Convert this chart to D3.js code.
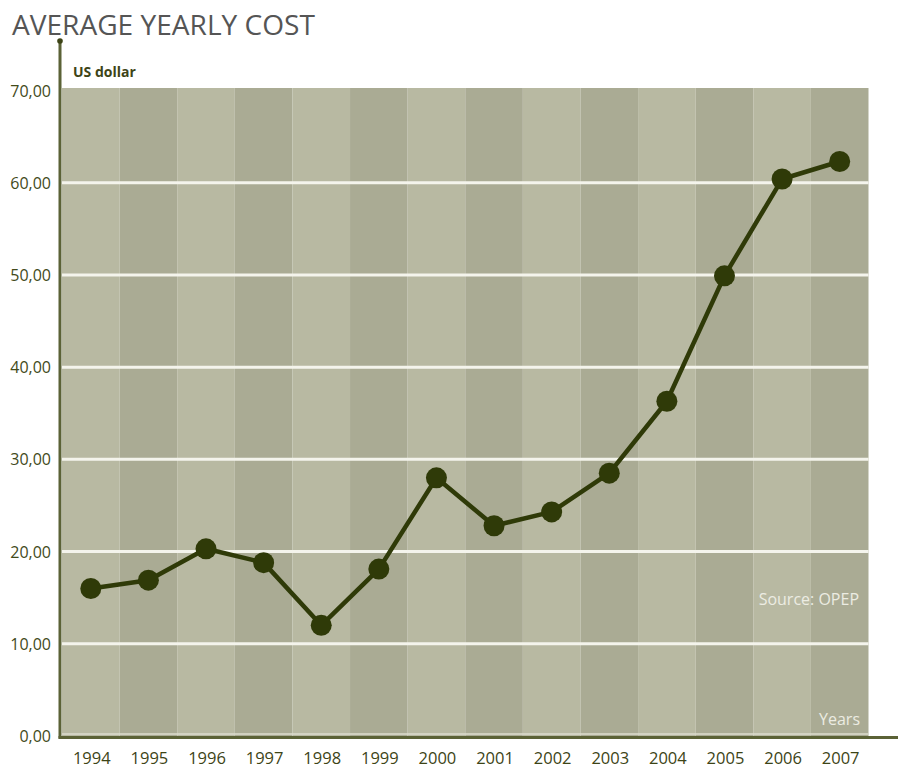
<!DOCTYPE html>
<html><head><meta charset="utf-8">
<script src="https://cdn.jsdelivr.net/npm/d3@7"></script>
<style>body{margin:0;background:#fff}svg{display:block}</style>
</head><body>
<script>
const years = ["1994","1995","1996","1997","1998","1999","2000","2001","2002","2003","2004","2005","2006","2007"];
const values = [16.0, 16.9, 20.3, 18.8, 12.0, 18.1, 28.0, 22.8, 24.3, 28.5, 36.3, 49.9, 60.4, 62.3];
const yTicks = [0,10,20,30,40,50,60,70];

(function(){
const W = 898, H = 770;
const pLeft = 62, pRight = 868.5, pTop = 90.5, pBottom = 736;
const svg = d3.select("body").append("svg").attr("width", W).attr("height", H);
const font = "'Liberation Sans Narrow','Open Sans',sans-serif";

const x = d3.scaleBand().domain(years).range([pLeft, pRight]).padding(0);
const y = d3.scaleLinear().domain([0,70]).range([pBottom, pTop]);

// stripes
svg.append("g").selectAll("rect").data(years).join("rect")
  .attr("x", d => x(d)).attr("width", x.bandwidth())
  .attr("y", 88).attr("height", pBottom - 88)
  .attr("fill", (d,i) => i % 2 === 0 ? "#b8b9a2" : "#aaab94");

// gridlines
svg.append("g").selectAll("line").data(yTicks.filter(t => t > 0 && t < 70)).join("line")
  .attr("x1", pLeft).attr("x2", pRight)
  .attr("y1", d => y(d)).attr("y2", d => y(d))
  .attr("stroke", "#f4f4ec").attr("stroke-width", 3);
svg.append("line").attr("x1", pLeft).attr("x2", pRight)
  .attr("y1", pBottom - 2).attr("y2", pBottom - 2)
  .attr("stroke", "#dcdcce").attr("stroke-width", 1.5);

// axes lines
svg.append("line").attr("x1", 60).attr("x2", 60).attr("y1", 40).attr("y2", 738.5)
  .attr("stroke", "#5b6236").attr("stroke-width", 3);
svg.append("circle").attr("cx", 60).attr("cy", 41).attr("r", 2.8).attr("fill", "#3d4416");
svg.append("line").attr("x1", 58.5).attr("x2", W).attr("y1", 737.5).attr("y2", 737.5)
  .attr("stroke", "#5b6236").attr("stroke-width", 3);

// y tick labels
svg.append("g").selectAll("text").data(yTicks).join("text")
  .attr("x", 51).attr("y", d => y(d) + 6)
  .attr("text-anchor", "end")
  .attr("font-family", font).attr("font-size", 16)
  .attr("fill", "#424a1a")
  .text(d => d3.format(".2f")(d).replace(".", ","));

// x tick labels
svg.append("g").selectAll("text").data(years).join("text")
  .attr("x", d => x(d) + x.bandwidth()/2 + 1).attr("y", 764)
  .attr("text-anchor", "middle")
  .attr("font-family", font).attr("font-size", 16.5)
  .attr("fill", "#3d4416")
  .text(d => d);

// line
const line = d3.line().x((d,i) => x(years[i]) + x.bandwidth()/2).y(d => y(d));
svg.append("path").datum(values).attr("d", line)
  .attr("fill", "none").attr("stroke", "#2f3a08").attr("stroke-width", 4.5)
  .attr("stroke-linejoin", "round");
svg.append("g").selectAll("circle").data(values).join("circle")
  .attr("cx", (d,i) => x(years[i]) + x.bandwidth()/2)
  .attr("cy", d => y(d)).attr("r", 10.5)
  .attr("fill", "#2f3a08");

// title
svg.append("text").attr("x", 12).attr("y", 35)
  .attr("font-family", font).attr("font-size", 28)
  .attr("fill", "#555555")
  .attr("textLength", 303).attr("lengthAdjust", "spacingAndGlyphs")
  .text("AVERAGE YEARLY COST");

svg.append("text").attr("x", 73).attr("y", 77)
  .attr("font-family", font).attr("font-size", 14).attr("font-weight", "bold")
  .attr("fill", "#3d4416").text("US dollar");

svg.append("text").attr("x", 859).attr("y", 605).attr("text-anchor", "end")
  .attr("font-family", font).attr("font-size", 16)
  .attr("fill", "#ecece2").text("Source: OPEP");

svg.append("text").attr("x", 860).attr("y", 725).attr("text-anchor", "end")
  .attr("font-family", font).attr("font-size", 16)
  .attr("fill", "#ecece2").text("Years");
})();
</script>
</body></html>
